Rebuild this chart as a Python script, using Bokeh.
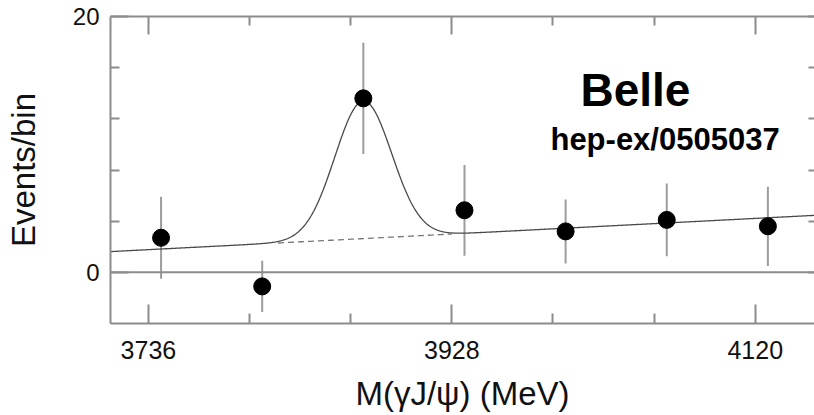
import numpy as np
from bokeh.plotting import figure
from bokeh.models import (ColumnDataSource, FixedTicker, LinearAxis, Span,
                          Label, Range1d)
from bokeh.embed import file_html
from bokeh.resources import INLINE

# Binned γJ/ψ invariant-mass spectrum (64 MeV bins)
mass = [3744, 3808, 3872, 3936, 4000, 4064, 4128]          # bin centres, MeV
events = [2.7, -1.1, 13.6, 4.85, 3.2, 4.1, 3.6]            # events / bin
errors = [3.2, 2.0, 4.35, 3.55, 2.5, 2.85, 3.1]            # ±1σ

# Fit: Gaussian signal on a linear background
x_lo, x_hi = 3712, 4160
bg_at_lo, bg_at_hi = 1.62, 4.47
peak_mass, peak_sigma, peak_amp = 3872.0, 18.0, 10.75

x_major = [3736, 3928, 4120]
x_minor = [3800, 3864, 3992, 4056]
y_major = [0, 20]
y_minor = [4, 8, 12, 16]

FONT = "Liberation Sans"
FRAME = "#8c8c8c"

src = ColumnDataSource(dict(
    x=mass, y=events,
    lo=[v - e for v, e in zip(events, errors)],
    hi=[v + e for v, e in zip(events, errors)],
))

def background(m):
    return bg_at_lo + (bg_at_hi - bg_at_lo) * (m - x_lo) / (x_hi - x_lo)

m_fit = np.linspace(x_lo, x_hi, 900)
fit_total = background(m_fit) + peak_amp * np.exp(-0.5 * ((m_fit - peak_mass) / peak_sigma) ** 2)
m_dash = np.linspace(3818, 3928, 60)

p = figure(width=814, height=415,
           x_range=Range1d(x_lo, 4157.5), y_range=Range1d(-4, 20),
           output_backend="svg", toolbar_location=None,
           x_axis_location=None, y_axis_location=None,
           min_border_left=110, min_border_right=0,
           min_border_top=16, min_border_bottom=92)
p.background_fill_color = "white"
p.border_fill_color = "white"
p.outline_line_color = None
p.xgrid.visible = False
p.ygrid.visible = False

def style_axis(ax, major_len, minor_len, labels=True):
    ax.axis_line_color = FRAME
    ax.axis_line_width = 2
    ax.major_tick_line_color = FRAME
    ax.minor_tick_line_color = FRAME
    ax.major_tick_line_width = 2
    ax.minor_tick_line_width = 2
    ax.major_tick_in = major_len
    ax.major_tick_out = 0
    ax.minor_tick_in = minor_len
    ax.minor_tick_out = 0
    if labels:
        ax.major_label_text_font = FONT
        ax.major_label_text_color = "#111111"
        ax.axis_label_text_font = FONT
        ax.axis_label_text_font_style = "normal"
        ax.axis_label_text_color = "#111111"
    else:
        ax.major_label_text_font_size = "0px"
        ax.major_label_text_alpha = 0

xticks = FixedTicker(ticks=x_major, minor_ticks=x_minor)
yticks = FixedTicker(ticks=y_major, minor_ticks=y_minor)

bottom = LinearAxis(ticker=xticks, axis_label="M(γJ/ψ) (MeV)")
style_axis(bottom, 19, 10)
bottom.major_label_text_font_size = "25px"
bottom.major_label_standoff = 17
bottom.axis_label_text_font_size = "33px"
bottom.axis_label_standoff = 13
p.add_layout(bottom, "below")

top = LinearAxis(ticker=xticks)
style_axis(top, 18, 9, labels=False)
p.add_layout(top, "above")

left = LinearAxis(ticker=yticks, axis_label="Events/bin")
style_axis(left, 18, 9)
left.major_label_text_font_size = "24px"
left.major_label_standoff = 11
left.axis_label_text_font_size = "33px"
left.axis_label_standoff = 28
p.add_layout(left, "left")

right = LinearAxis(ticker=yticks)
style_axis(right, 6, 6, labels=False)
right.axis_line_color = None
p.add_layout(right, "right")

p.add_layout(Span(location=0, dimension="width", line_color=FRAME, line_width=2))

# error bars and points
p.segment(x0="x", y0="lo", x1="x", y1="hi", source=src,
          line_color="#9c9c9c", line_width=2)

# background under the peak (dashed) and full fit (solid)
p.line(m_dash, background(m_dash), line_color="#777777", line_width=1.3,
       line_dash="6 4")
p.line(m_fit, fit_total, line_color="#4a4a4a", line_width=1.3)

p.scatter(x="x", y="y", source=src, size=17, marker="circle",
          fill_color="black", line_color="black")

p.add_layout(Label(x=4009.4, y=14.22, text="Belle", text_font=FONT,
                   text_font_size="46px", text_font_style="bold",
                   text_color="black", text_baseline="alphabetic"))
p.add_layout(Label(x=3990.4, y=10.39, text="hep-ex/0505037", text_font=FONT,
                   text_font_size="31px", text_font_style="bold",
                   text_color="black", text_baseline="alphabetic"))

open("out.html", "w").write(file_html(p, INLINE))
